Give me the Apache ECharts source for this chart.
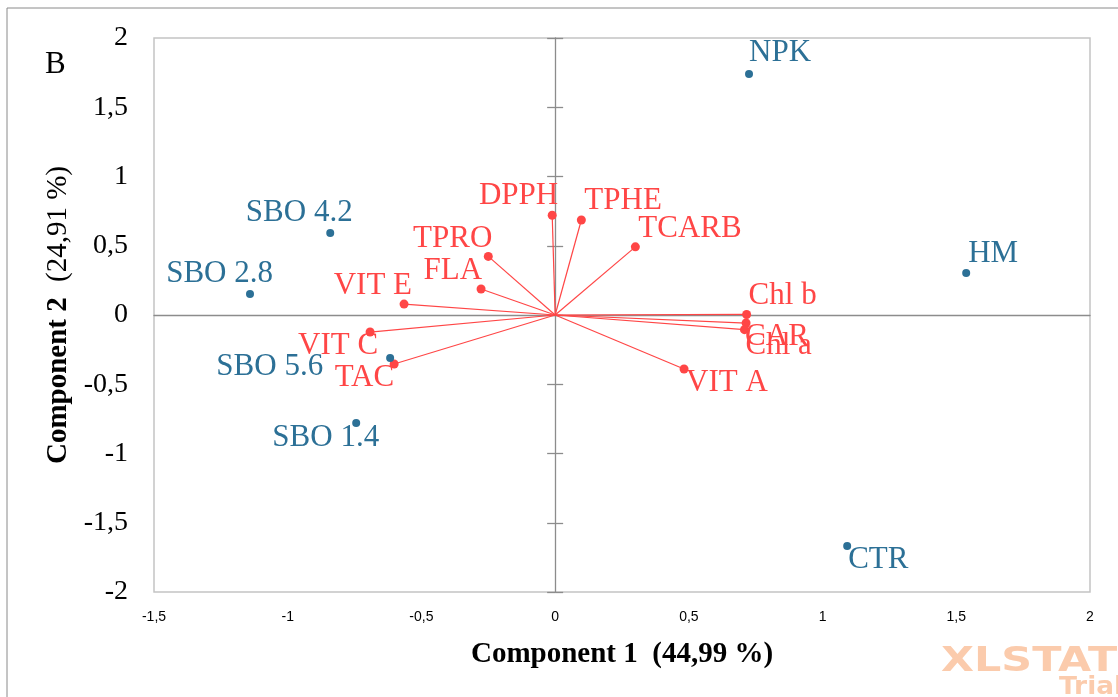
<!DOCTYPE html>
<html>
<head>
<meta charset="utf-8">
<script src="https://cdn.jsdelivr.net/npm/echarts@6/dist/echarts.min.js"></script>
<style>
  html, body { margin: 0; padding: 0; background: #fff; }
  #chart { width: 1118px; height: 697px; }
</style>
</head>
<body>
<div id="chart"></div>
<script>
// observations (blue points)
var obsNames = ['NPK', 'HM', 'SBO 4.2', 'SBO 2.8', 'SBO 5.6', 'SBO 1.4', 'CTR'];
var obsX = [0.725, 1.537, -0.841, -1.141, -0.617, -0.744, 1.092];
var obsY = [1.74, 0.303, 0.592, 0.152, -0.31, -0.78, -1.668];

// variables (red vectors)
var varNames = ['DPPH', 'TPHE', 'TCARB', 'TPRO', 'FLA', 'VIT E', 'VIT C', 'TAC', 'Chl b', 'CAR', 'Chl a', 'VIT A'];
var varX = [-0.011, 0.098, 0.300, -0.250, -0.277, -0.565, -0.692, -0.602, 0.716, 0.714, 0.708, 0.482];
var varY = [0.720, 0.686, 0.492, 0.423, 0.188, 0.079, -0.123, -0.354, 0.004, -0.058, -0.106, -0.390];

var xTicks = [-1.5, -1, -0.5, 0, 0.5, 1, 1.5, 2];
var yTicks = [-2, -1.5, -1, -0.5, 0, 0.5, 1, 1.5, 2];

var blue = '#2C7096';
var red = '#FF4646';
var serif = '"Liberation Serif", "DejaVu Serif", serif';

// label placement: [align, dx, dy] relative to the marker centre
var obsLabelPos = {
    'NPK': ['left', 0, -21], 'HM': ['left', 2, -19], 'SBO 4.2': ['center', -31, -20],
    'SBO 2.8': ['right', 23, -20], 'SBO 5.6': ['right', -67, 9], 'SBO 1.4': ['right', 23, 15],
    'CTR': ['left', 1, 14]
};
var varLabelPos = {
    'DPPH': ['right', 6, -19], 'TPHE': ['left', 3, -19], 'TCARB': ['left', 3, -18],
    'TPRO': ['right', 4, -18], 'FLA': ['right', 1, -18], 'VIT E': ['right', 8, -18],
    'VIT C': ['right', 8, 14], 'TAC': ['right', 0, 14], 'Chl b': ['left', 2, -19],
    'CAR': ['left', -1, 14], 'Chl a': ['left', 1, 16], 'VIT A': ['left', 2, 14]
};

function fmt(v) { return String(v).replace('.', ','); }

function pointData(names, xs, ys, pos, color) {
    return names.map(function (n, i) {
        var p = pos[n];
        return {
            name: n,
            value: [xs[i], ys[i]],
            label: {
                show: true, position: 'inside', formatter: n, align: p[0],
                verticalAlign: 'middle', offset: [p[1], p[2]],
                color: color, opacity: 1, fontFamily: serif, fontSize: 31
            }
        };
    });
}

var vectors = varNames.map(function (n, i) {
    return { coords: [[0, 0], [varX[i], varY[i]]] };
});

var chart = echarts.init(document.getElementById('chart'));
var option = {
    animation: false,
    grid: {
        left: 154, right: 28, top: 38, bottom: 105,
        show: true, borderColor: '#c4c4c4', borderWidth: 1.5, backgroundColor: '#fff'
    },
    graphic: [
        { type: 'rect', shape: { x: 7, y: 8, width: 1200, height: 800 }, style: { fill: 'none', stroke: '#8a8a8a', lineWidth: 1 }, silent: true, z: -1 },
        { type: 'text', left: 45, top: 49, style: { text: 'B', font: '31px ' + serif, fill: '#000' } },
        { type: 'text', x: 941, y: 645, scaleX: 1.26, style: { text: 'XLSTAT', font: 'bold 34px "DejaVu Sans", sans-serif', fill: '#FBCBAC' } },
        { type: 'text', x: 1059, y: 676, scaleX: 1.1, style: { text: 'Trial', font: 'bold 24px "DejaVu Sans", sans-serif', fill: '#FBCBAC' } }
    ],
    xAxis: [{
        type: 'value', min: -1.5, max: 2, interval: 0.5,
        axisLine: { show: false }, axisTick: { show: false }, splitLine: { show: false },
        axisLabel: {
            margin: 18, fontFamily: '"Liberation Sans", "Open Sans", sans-serif', fontSize: 14, color: '#000',
            formatter: fmt, customValues: xTicks
        },
        name: 'Component 1  (44,99 %)', nameLocation: 'middle', nameGap: 48,
        nameTextStyle: { fontFamily: serif, fontSize: 29, fontWeight: 'bold', color: '#000' }
    }, {
        type: 'value', min: -1.5, max: 2, interval: 0.5, position: 'bottom',
        axisLine: { show: true, onZero: true, onZeroAxisIndex: 0, lineStyle: { color: '#8c8c8c', width: 1.3 } },
        axisTick: { show: false }, axisLabel: { show: false }, splitLine: { show: false }
    }],
    yAxis: [{
        type: 'value', min: -2, max: 2, interval: 0.5,
        axisLine: { show: false }, axisTick: { show: false }, splitLine: { show: false },
        axisLabel: {
            margin: 26, fontFamily: serif, fontSize: 28, color: '#000',
            formatter: fmt, customValues: yTicks
        },
        name: '{b|Component 2} {n|(24,91 %)}', nameLocation: 'middle', nameGap: 80,
        nameTextStyle: {
            fontFamily: serif, fontSize: 29,
            rich: {
                b: { fontFamily: serif, fontSize: 29, fontWeight: 'bold', color: '#000' },
                n: { fontFamily: serif, fontSize: 29, color: '#000', padding: [0, 0, 0, 8] }
            }
        }
    }, {
        type: 'value', min: -2, max: 2, interval: 0.5, position: 'left',
        axisLine: { show: true, onZero: true, onZeroAxisIndex: 0, lineStyle: { color: '#8c8c8c', width: 1.3 } },
        axisTick: { show: true, inside: true, length: 8, lineStyle: { color: '#8c8c8c', width: 1.3 } },
        axisLabel: { show: false }, splitLine: { show: false }
    }, {
        type: 'value', min: -2, max: 2, interval: 0.5, position: 'left',
        axisLine: { show: false, onZero: true, onZeroAxisIndex: 0 },
        axisTick: { show: true, inside: false, length: 8, lineStyle: { color: '#8c8c8c', width: 1.3 } },
        axisLabel: { show: false }, splitLine: { show: false }
    }],
    series: [{
        type: 'lines', coordinateSystem: 'cartesian2d', xAxisIndex: 0, yAxisIndex: 0,
        data: vectors, lineStyle: { color: red, width: 1.2, opacity: 1 }, symbol: 'none', z: 3
    }, {
        type: 'scatter', xAxisIndex: 0, yAxisIndex: 0, symbolSize: 9,
        itemStyle: { color: red, opacity: 1 }, data: pointData(varNames, varX, varY, varLabelPos, red), z: 4
    }, {
        type: 'scatter', xAxisIndex: 0, yAxisIndex: 0, symbolSize: 8,
        itemStyle: { color: blue, opacity: 1 }, data: pointData(obsNames, obsX, obsY, obsLabelPos, blue), z: 4
    }]
};
chart.setOption(option);
</script>
</body>
</html>
